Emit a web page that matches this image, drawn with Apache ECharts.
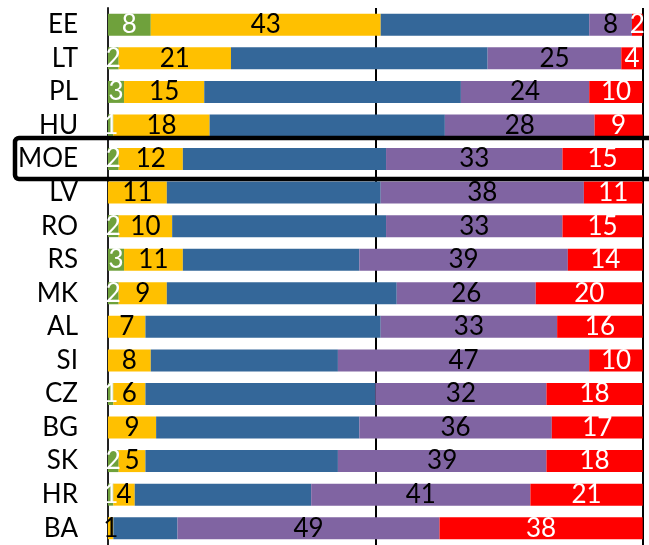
<!DOCTYPE html>
<html>
<head>
<meta charset="utf-8">
<script src="https://cdn.jsdelivr.net/npm/echarts@6/dist/echarts.min.js"></script>
<style>html,body{margin:0;padding:0;background:#fff;}#c{width:649px;height:545px;}</style>
</head>
<body>
<div id="c"></div>
<script>
const categories = ['EE','LT','PL','HU','MOE','LV','RO','RS','MK','AL','SI','CZ','BG','SK','HR','BA'];
const green  = [8,2,3,1,2,0,2,3,2,0,0,1,0,2,1,0];
const yellow = [43,21,15,18,12,11,10,11,9,7,8,6,9,5,4,1];
const blue   = [39,48,48,44,38,40,40,33,43,44,35,43,38,36,33,12];
const purple = [8,25,24,28,33,38,33,39,26,33,47,32,36,39,41,49];
const red    = [2,4,10,9,15,11,15,14,20,16,10,18,17,18,21,38];
const highlighted = 'MOE';

const FONT = 'Lato, "Open Sans", sans-serif';
function mk(name, data, color, labelColor) {
  return {
    name, type: 'bar', stack: 'all', data,
    barWidth: 22,
    itemStyle: { color },
    label: labelColor ? {
      show: true, position: 'inside', color: labelColor,
      fontFamily: FONT, fontSize: 26,
      formatter: p => (p.value ? String(p.value) : '')
    } : { show: false },
    emphasis: { disabled: true }
  };
}
const chart = echarts.init(document.getElementById('c'));
chart.setOption({
  animation: false,
  grid: { left: 108, right: 6.3, top: 8, height: 542.4, containLabel: false },
  xAxis: {
    type: 'value', min: 0, max: 100, interval: 50,
    axisLabel: { show: false }, axisTick: { show: false }, axisLine: { show: false },
    splitLine: { show: true, lineStyle: { color: '#000', width: 2 } }
  },
  yAxis: {
    type: 'category', data: categories, inverse: true,
    axisTick: { show: false },
    axisLine: { show: true, lineStyle: { color: '#222', width: 2 } },
    axisLabel: { interval: 0, fontFamily: FONT, fontSize: 26, color: '#000', margin: 30 }
  },
  series: [
    mk('green', green, '#6FA13C', '#fff'),
    mk('yellow', yellow, '#FFC000', '#000'),
    mk('blue', blue, '#346799', null),
    mk('purple', purple, '#8064A2', '#000'),
    mk('red', red, '#FF0000', '#fff')
  ]
});
const cy = chart.convertToPixel({ yAxisIndex: 0 }, highlighted);
chart.setOption({
  graphic: [{
    type: 'rect', z: 100,
    shape: { x: 15, y: cy - 21, width: 700, height: 41, r: 4 },
    style: { fill: 'none', stroke: '#000', lineWidth: 4.5 }
  }]
});
</script>
</body>
</html>
